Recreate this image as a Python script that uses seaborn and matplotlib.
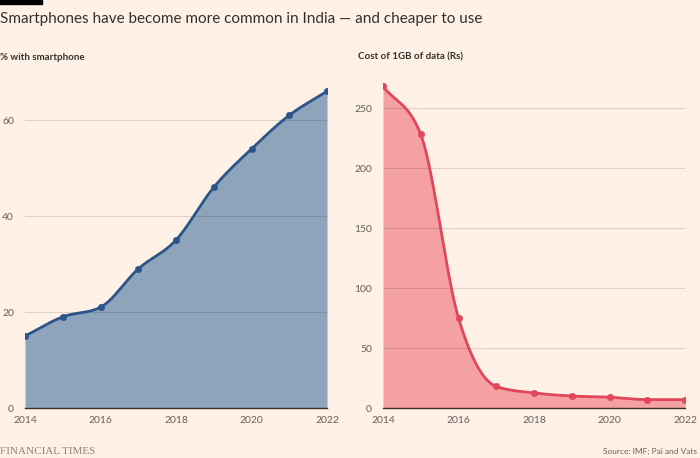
import matplotlib
matplotlib.use("Agg")
import matplotlib.pyplot as plt
import numpy as np
import pandas as pd
import seaborn as sns

# ============================================================
# DATOS
# ============================================================
years = [2014, 2015, 2016, 2017, 2018, 2019, 2020, 2021, 2022]
pct_smartphone = [15, 19, 21, 29, 35, 46, 54, 61, 66]
cost_1gb = [268, 228, 75, 18, 12.5, 10, 9, 7, 7]
x_ticks = [2014, 2016, 2018, 2020, 2022]
left_yticks = [0, 20, 40, 60]
right_yticks = [0, 50, 100, 150, 200, 250]

title = "Smartphones have become more common in India \u2014 and cheaper to use"
left_label = "% with smartphone"
right_label = "Cost of 1GB of data (Rs)"
source = "Source: IMF; Pai and Vats"

BG = "#FFF1E5"
TXT = "#33302E"
GREY = "#66605C"


def monotone_curve(x, y, n=40):
    """Curva monótona (tipo d3 curveMonotoneX) sólo para dibujar."""
    x = np.asarray(x, float)
    y = np.asarray(y, float)
    h = np.diff(x)
    d = np.diff(y) / h
    m = np.zeros_like(y)
    m[0], m[-1] = d[0], d[-1]
    for i in range(1, len(y) - 1):
        if d[i - 1] * d[i] <= 0:
            m[i] = 0
        else:
            m[i] = (np.sign(d[i - 1]) *
                    min(abs(d[i - 1]), abs(d[i]),
                        0.5 * abs((h[i - 1] * d[i] + h[i] * d[i - 1]) / (h[i - 1] + h[i]))) * 2)
    xs, ys = [], []
    for i in range(len(x) - 1):
        t = np.linspace(0, 1, n, endpoint=(i == len(x) - 2))
        h00 = 2 * t**3 - 3 * t**2 + 1
        h10 = t**3 - 2 * t**2 + t
        h01 = -2 * t**3 + 3 * t**2
        h11 = t**3 - t**2
        xs.append(x[i] + t * h[i])
        ys.append(h00 * y[i] + h10 * h[i] * m[i] + h01 * y[i + 1] + h11 * h[i] * m[i + 1])
    return np.concatenate(xs), np.concatenate(ys)


sns.set_style("white")
plt.rcParams["font.family"] = ["Lato", "DejaVu Sans"]

fig = plt.figure(figsize=(7, 4.58), dpi=100, facecolor=BG)
ax1 = fig.add_axes([25 / 700, 50 / 458, 302 / 700, 333 / 458])
ax2 = fig.add_axes([383 / 700, 50 / 458, 302 / 700, 333 / 458])

paneles = [
    (ax1, pct_smartphone, "#2B5589", "#8DA4BB", left_yticks, 69.4),
    (ax2, cost_1gb, "#E0475A", "#F5A1A3", right_yticks, 277.5),
]

for ax, vals, line_c, fill_c, yt, ytop in paneles:
    ax.set_facecolor(BG)
    # rejilla por encima del relleno, tenue
    for yv in yt[1:]:
        ax.axhline(yv, color="black", alpha=0.13, lw=0.8, zorder=2)
    xs, ys = monotone_curve(years, vals)
    ax.fill_between(xs, 0, ys, color=fill_c, lw=0, zorder=1)
    sns.lineplot(x=xs, y=ys, ax=ax, color=line_c, lw=2, zorder=3)
    sns.scatterplot(x=years, y=vals, ax=ax, color=line_c, s=22, edgecolor=line_c, zorder=4)
    ax.set_xlim(2014, 2022)
    ax.set_ylim(0, ytop)
    ax.set_xticks(x_ticks)
    ax.set_yticks(yt)
    ax.tick_params(axis="x", color="#B3ABA3", labelsize=7.5, length=4, width=0.8, pad=2,
                   labelcolor=GREY)
    ax.tick_params(axis="y", length=0, labelsize=7.5, labelcolor=GREY, pad=8)
    for s in ["top", "right", "left"]:
        ax.spines[s].set_visible(False)
    ax.spines["bottom"].set_color(TXT)
    ax.spines["bottom"].set_linewidth(1)
    ax.set_xlabel("")
    ax.set_ylabel("")

fig.text(0 / 700, 1 - 57 / 458, left_label, fontsize=7, fontweight="bold", color=TXT,
         va="center", ha="left")
fig.text(358 / 700, 1 - 57 / 458, right_label, fontsize=7, fontweight="bold", color=TXT,
         va="center", ha="left")
fig.text(0, 1 - 19 / 458, title, fontsize=11, color=TXT, va="center", ha="left")
fig.patches.append(plt.Rectangle((0, 1 - 4 / 458), 42 / 700, 4 / 458, transform=fig.transFigure,
                                 color="black", figure=fig))
fig.text(0, 1 - 451 / 458, "FINANCIAL TIMES", fontsize=8, color="#8C8480",
         family="Liberation Serif", va="center", ha="left")
fig.text(697 / 700, 1 - 451 / 458, source, fontsize=6, color=GREY, va="center", ha="right")

fig.savefig("out.png", dpi=100, facecolor=BG)
